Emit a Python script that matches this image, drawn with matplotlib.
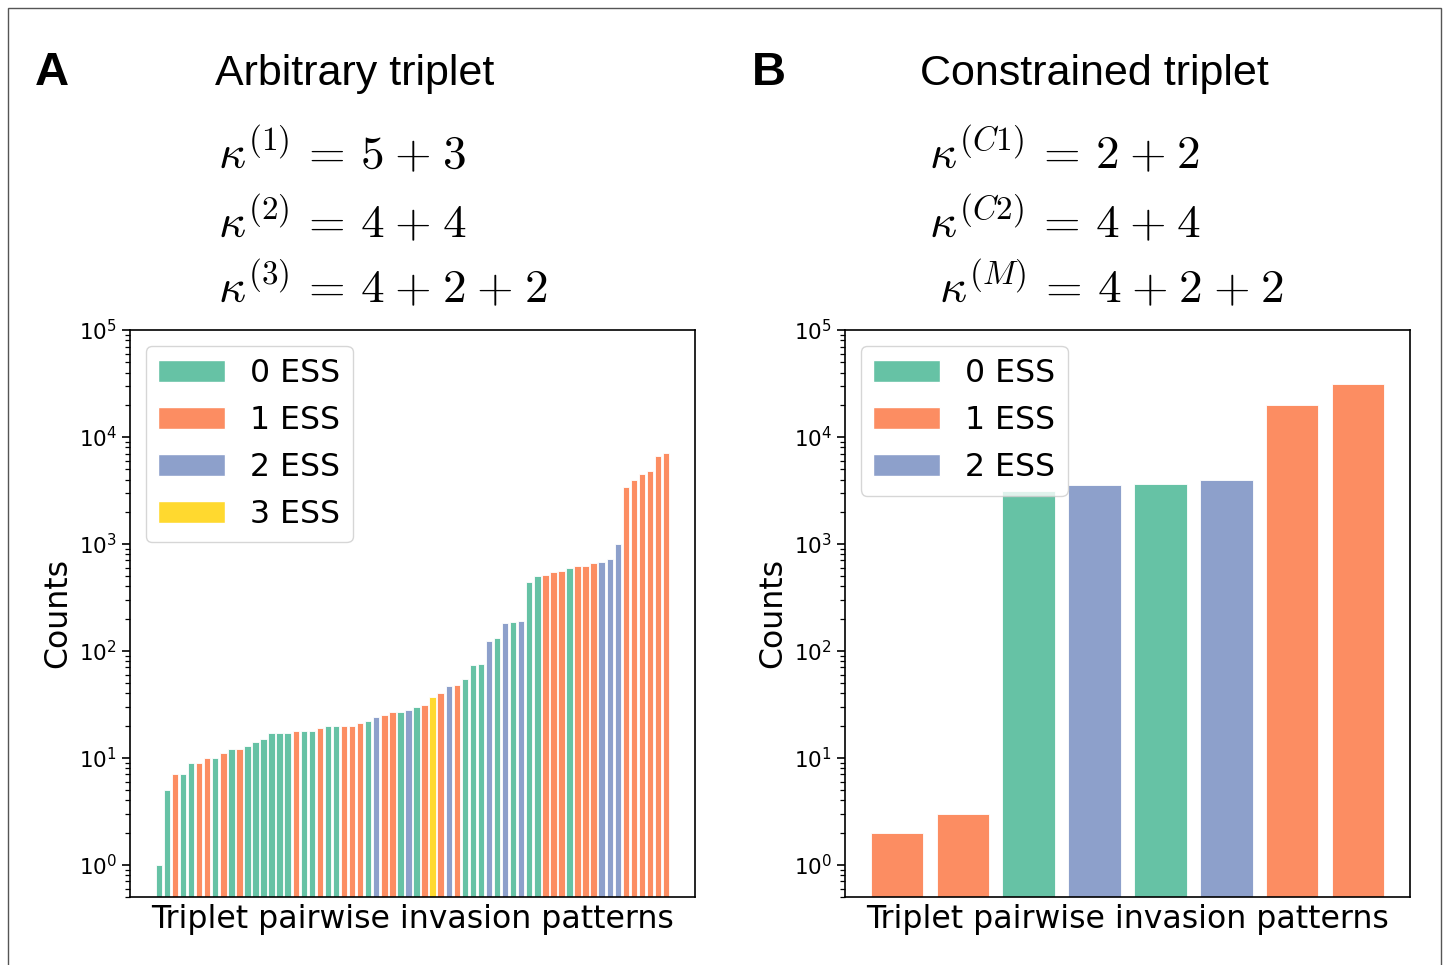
import matplotlib
matplotlib.use("Agg")
import matplotlib.pyplot as plt
from matplotlib.patches import Patch, Rectangle

# colours / labels for the number of ESS (Set2)
ess_colors = ['#66c2a5', '#fc8d62', '#8da0cb', '#ffd92f']
ess_labels = ['0 ESS', '1 ESS', '2 ESS', '3 ESS']

# panel A: arbitrary triplet, counts per invasion pattern (sorted)
counts_a = [1, 5, 7, 7, 9, 9, 10, 10, 11, 12,
            12, 13, 14, 15, 17, 17, 17, 18, 18, 18,
            19, 20, 20, 20, 20, 21, 22, 24, 25, 27,
            27, 28, 30, 31, 37, 40, 47, 48, 55, 74,
            75, 124, 133, 182, 187, 191, 438, 498, 509, 543,
            555, 592, 626, 626, 662, 672, 717, 990, 3430, 3990,
            4470, 4760, 6570, 7110]
ess_a = [0, 0, 1, 0, 0, 1, 1, 0, 1, 0,
         1, 0, 0, 0, 0, 0, 0, 1, 0, 0,
         1, 0, 0, 1, 1, 1, 0, 2, 1, 1,
         0, 2, 0, 1, 3, 1, 2, 1, 0, 0,
         0, 2, 0, 2, 0, 2, 0, 0, 1, 1,
         1, 0, 1, 1, 1, 2, 2, 2, 1, 1,
         1, 1, 1, 1]

# panel B: constrained triplet
counts_b = [2, 3, 3140, 3530, 3650, 3990, 20000, 31300]
ess_b = [1, 1, 0, 2, 0, 2, 1, 1]

titles = ['Arbitrary triplet', 'Constrained triplet']
EQ = r'\,=\,'
PL = r'\hspace{0.06}+\hspace{0.06}'
eqs_a = [r'$\kappa^{(1)}' + EQ + '5' + PL + '3$',
         r'$\kappa^{(2)}' + EQ + '4' + PL + '4$',
         r'$\kappa^{(3)}' + EQ + '4' + PL + '2' + PL + '2$']
eqs_b = [r'$\kappa^{(C1)}' + EQ + '2' + PL + '2$',
         r'$\kappa^{(C2)}' + EQ + '4' + PL + '4$',
         r'$\kappa^{(M)}' + EQ + '4' + PL + '2' + PL + '2$']

plt.rcParams['mathtext.fontset'] = 'cm'

W, H = 1447, 965
fig = plt.figure(figsize=(W / 100, H / 100), dpi=100)

# thin frame around the whole figure
fig.patches.append(Rectangle((8 / W, -0.01), (1441 - 8) / W, 1.01 - 8 / H,
                             transform=fig.transFigure, fill=False,
                             edgecolor='#555555', linewidth=1))


def draw_panel(ax, counts, ess, n_legend):
    x = range(len(counts))
    cols = [ess_colors[e] for e in ess]
    ax.bar(x, counts, width=0.8, color=cols, edgecolor='white', linewidth=0.6)
    ax.set_yscale('log')
    ax.set_ylim(0.5, 1e5)
    ax.set_xticks([])
    ax.set_ylabel('Counts', fontsize=22.7)
    ax.set_xlabel('Triplet pairwise invasion patterns', fontsize=22.7, labelpad=5)
    ax.tick_params(axis='y', which='major', labelsize=15.5, length=6, width=1.2)
    ax.tick_params(axis='y', which='minor', length=3.5, width=0.9)
    for s in ax.spines.values():
        s.set_linewidth(1.2)
    handles = [Patch(facecolor=ess_colors[i], edgecolor='white', label=ess_labels[i])
               for i in range(n_legend)]
    ax.legend(handles=handles, loc='upper left', fontsize=22.7, handlelength=2.1)


ax_a = fig.add_axes([130 / W, (H - 897) / H, 565 / W, 567 / H])
draw_panel(ax_a, counts_a, ess_a, 4)
ax_b = fig.add_axes([845 / W, (H - 897) / H, 565 / W, 567 / H])
draw_panel(ax_b, counts_b, ess_b, 3)

# panel letters and titles
fig.text(35 / W, 1 - 85 / H, 'A', fontsize=34, fontweight='bold',
         family='Liberation Sans', va='baseline')
fig.text(752 / W, 1 - 85 / H, 'B', fontsize=34, fontweight='bold',
         family='Liberation Sans', va='baseline')
fig.text(215 / W, 1 - 85 / H, titles[0], fontsize=31, family='Liberation Sans', va='baseline')
fig.text(920 / W, 1 - 85 / H, titles[1], fontsize=31, family='Liberation Sans', va='baseline')

# equations
baselines = [168, 237, 302]
for eq, yb in zip(eqs_a, baselines):
    fig.text(218 / W, 1 - yb / H, eq, fontsize=34, va='baseline')
for eq, yb, xl in zip(eqs_b, baselines, [929, 929, 939]):
    fig.text(xl / W, 1 - yb / H, eq, fontsize=34, va='baseline')

fig.savefig('out.png', dpi=100)
